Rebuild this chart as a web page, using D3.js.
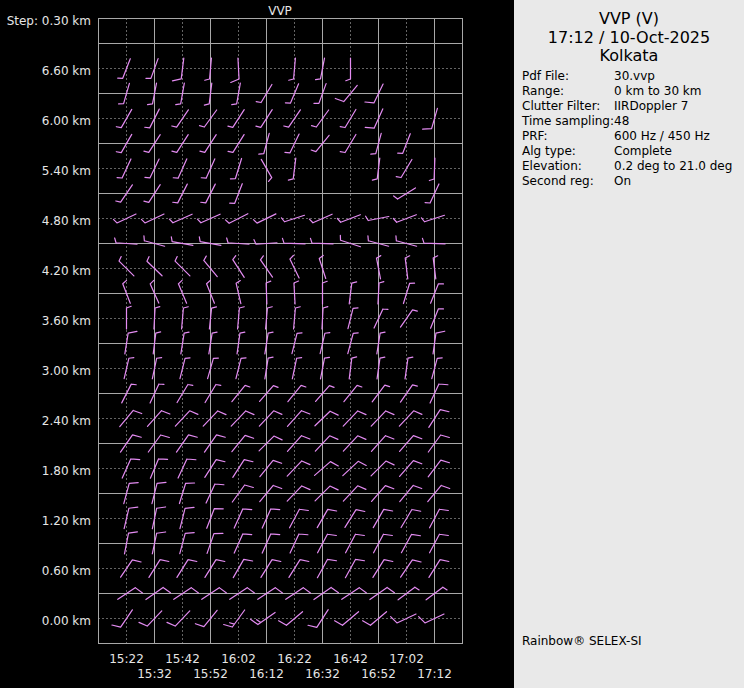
<!DOCTYPE html>
<html>
<head>
<meta charset="utf-8">
<script src="https://cdn.jsdelivr.net/npm/d3@7"></script>
<style>
  html, body { margin: 0; padding: 0; background: #000; }
  svg { display: block; font-family: "DejaVu Sans", sans-serif; }
</style>
</head>
<body>
<svg id="chart" width="744" height="688"></svg>
<script>
// ---------- data ----------
const times = ["15:22","15:32","15:42","15:52","16:02","16:12","16:22","16:32","16:42","16:52","17:02","17:12"];
const heightLabels = [0.0,0.6,1.2,1.8,2.4,3.0,3.6,4.2,4.8,5.4,6.0,6.6];
const heights = [6.6,6.3,6.0,5.7,5.4,5.1,4.8,4.5,4.2,3.9,3.6,3.3,3.0,2.7,2.4,2.1,1.8,1.5,1.2,0.9,0.6,0.3,0.0];
// wind direction (deg, from) per height row (top to bottom), per time column
const direction = [
  [201,200,187,185,177,null,185,191,180,null,null,null],
  [196,191,190,187,190,211,203,200,220,206,null,null],
  [210,207,214,216,213,213,214,216,211,204,null,196],
  [210,213,213,213,212,195,206,219,211,195,201,null],
  [205,206,204,204,197,150,187,null,null,187,211,182],
  [214,213,207,207,201,null,null,null,null,null,238,205],
  [245,245,246,246,243,244,252,246,249,259,249,252],
  [274,285,280,280,274,266,272,272,288,285,285,272],
  [315,314,315,320,327,325,334,342,null,349,353,353],
  [339,336,337,338,347,358,357,0,7,3,17,22],
  [0,3,5,6,5,5,5,3,14,25,35,22],
  [9,7,9,9,8,9,14,13,15,9,null,8],
  [13,12,14,16,14,9,12,11,7,8,8,15],
  [27,25,31,31,39,41,39,41,39,37,35,25],
  [40,42,43,44,44,43,42,46,44,44,43,33],
  [35,36,35,35,39,45,42,43,43,42,41,36],
  [24,23,25,33,33,39,44,49,47,45,41,37],
  [15,14,17,25,36,40,44,45,43,41,40,40],
  [13,12,14,21,24,24,28,30,32,30,31,28],
  [11,12,15,19,24,24,25,28,28,28,29,28],
  [34,32,32,32,30,32,32,29,29,32,34,32],
  [56,55,56,56,56,56,56,55,56,55,53,53],
  [214,224,224,219,216,235,230,213,230,230,245,245]
];
// wind speed (kt) per height row, per time column
const speed = [
  [5,5,10,5,10,null,5,5,5,null,null,null],
  [5,5,5,5,5,5,5,5,10,10,null,null],
  [5,5,5,5,5,5,5,5,5,10,null,10],
  [5,5,5,5,5,5,5,5,5,5,5,null],
  [5,5,5,5,5,5,5,null,null,5,5,5],
  [5,5,5,5,5,null,null,null,null,null,5,5],
  [5,5,5,5,5,5,5,5,5,5,5,5],
  [5,5,5,5,5,5,5,5,5,5,5,5],
  [5,5,5,5,5,5,5,5,null,5,5,5],
  [5,5,5,5,5,5,5,5,5,5,5,5],
  [5,5,5,5,5,5,5,5,5,5,5,5],
  [10,5,5,5,5,5,5,5,5,5,null,10],
  [5,5,5,5,5,5,5,5,5,5,5,5],
  [5,5,5,5,5,5,5,5,5,5,5,10],
  [10,10,10,10,10,10,10,10,10,10,10,10],
  [10,10,10,10,10,10,10,10,10,10,10,10],
  [10,10,10,10,10,10,10,10,10,10,10,10],
  [10,10,10,10,10,10,10,10,10,10,10,10],
  [10,10,10,10,10,10,10,10,10,10,10,10],
  [10,10,10,10,10,10,10,10,10,10,10,10],
  [10,10,10,10,10,10,10,10,10,10,10,10],
  [10,10,10,10,10,10,10,10,10,10,5,5],
  [10,10,10,10,15,15,10,10,10,10,10,10]
];
const infoLabels = ["Pdf File:","Range:","Clutter Filter:","Time sampling:","PRF:","Alg type:","Elevation:","Second reg:"];
const infoValues = ["30.vvp","0 km to 30 km","IIRDoppler 7","48","600 Hz / 450 Hz","Complete","0.2 deg to 21.0 deg","On"];
const titleLines = ["VVP (V)","17:12 / 10-Oct-2025","Kolkata"];

// ---------- scales ----------
const parse = d3.timeParse("%H:%M");
const t0 = parse("15:12"), t1 = parse("17:22");
const x = d3.scaleTime().domain([t0, t1]).range([98.5, 462.5]);
const y = d3.scaleLinear().domain([-0.3, 7.2]).range([643.5, 18.5]);

const svg = d3.select("#chart");
svg.append("rect").attr("width", 744).attr("height", 688).attr("fill", "#000");

// ---------- grid ----------
const grid = svg.append("g");
const gridH = d3.range(0, 24).map(i => +(i * 0.3).toFixed(2)); // 0.0 .. 6.9
gridH.forEach((h, i) => {
  const dotted = i % 2 === 0;
  grid.append("line")
    .attr("x1", x(t0)).attr("x2", x(t1))
    .attr("y1", y(h)).attr("y2", y(h))
    .attr("stroke", dotted ? "#c8c8c8" : "#a8a8a8")
    .attr("stroke-width", 1)
    .attr("stroke-dasharray", dotted ? "1,3" : null);
});
times.forEach((t, i) => {
  const dotted = i % 2 === 0;
  grid.append("line")
    .attr("x1", x(parse(t))).attr("x2", x(parse(t)))
    .attr("y1", y(7.2)).attr("y2", y(-0.3))
    .attr("stroke", dotted ? "#c8c8c8" : "#a8a8a8")
    .attr("stroke-width", 1)
    .attr("stroke-dasharray", dotted ? "1,3" : null);
});
grid.append("rect")
  .attr("x", x(t0)).attr("y", y(7.2))
  .attr("width", x(t1) - x(t0)).attr("height", y(-0.3) - y(7.2))
  .attr("fill", "none").attr("stroke", "#a8a8a8");

// ---------- axis labels ----------
svg.append("text").attr("x", 280).attr("y", 15).attr("text-anchor", "middle")
  .attr("font-size", 12).attr("fill", "#e6e6e6").text("VVP");
svg.append("text").attr("x", 91).attr("y", y(7.2) + 6.5).attr("text-anchor", "end")
  .attr("font-size", 12).attr("fill", "#e6e6e6").text("Step: 0.30 km");
heightLabels.forEach(h => {
  svg.append("text").attr("x", 91).attr("y", y(h) + 6.5).attr("text-anchor", "end")
    .attr("font-size", 12).attr("fill", "#e6e6e6").text(h.toFixed(2) + " km");
});
times.forEach((t, i) => {
  svg.append("text").attr("x", x(parse(t))).attr("y", i % 2 === 0 ? 663 : 678)
    .attr("text-anchor", "middle").attr("font-size", 12).attr("fill", "#e6e6e6").text(t);
});

// ---------- wind barbs ----------
const L = 21, FULL = 9, HALF = 5, GAP = 3.5, ROT = 70;
const rad = Math.PI / 180;
const barbs = svg.append("g").attr("stroke", "#e48cf2").attr("stroke-width", 1.2)
  .attr("fill", "none").attr("stroke-linecap", "round");
heights.forEach((h, r) => {
  times.forEach((t, c) => {
    const d = direction[r][c], s = speed[r][c];
    if (d == null || s == null) return;
    const cx = x(parse(t)), cy = y(h);
    const ux = Math.sin(d * rad), uy = -Math.cos(d * rad);
    const fx = Math.sin((d + ROT) * rad), fy = -Math.cos((d + ROT) * rad);
    const ex = cx + ux * L / 2, ey = cy + uy * L / 2;
    const p = d3.path();
    p.moveTo(cx - ux * L / 2, cy - uy * L / 2);
    p.lineTo(ex, ey);
    let rem = s, k = 0;
    while (rem >= 10) {
      const bx = ex - ux * GAP * k, by = ey - uy * GAP * k;
      p.moveTo(bx, by); p.lineTo(bx + fx * FULL, by + fy * FULL);
      rem -= 10; k++;
    }
    if (rem >= 5) {
      const bx = ex - ux * GAP * k, by = ey - uy * GAP * k;
      p.moveTo(bx, by); p.lineTo(bx + fx * HALF, by + fy * HALF);
    }
    barbs.append("path").attr("d", p.toString());
  });
});

// ---------- info panel ----------
svg.append("rect").attr("x", 514).attr("y", 0).attr("width", 230).attr("height", 688).attr("fill", "#e9e9e9");
titleLines.forEach((tl, i) => {
  svg.append("text").attr("x", 629).attr("y", 24 + i * 18.5).attr("text-anchor", "middle")
    .attr("font-size", 16).attr("fill", "#000").text(tl);
});
infoLabels.forEach((lab, i) => {
  svg.append("text").attr("x", 522).attr("y", 79.5 + i * 15).attr("font-size", 12).attr("fill", "#000").text(lab);
  svg.append("text").attr("x", 614).attr("y", 79.5 + i * 15).attr("font-size", 12).attr("fill", "#000").text(infoValues[i]);
});
svg.append("text").attr("x", 522).attr("y", 645).attr("font-size", 12).attr("fill", "#000").text("Rainbow® SELEX-SI");
</script>
</body>
</html>
